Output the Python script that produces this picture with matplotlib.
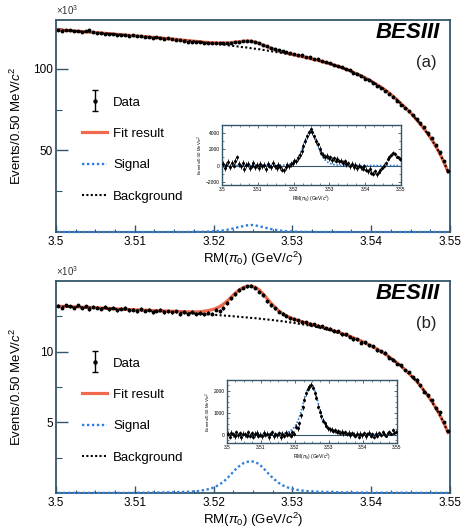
import numpy as np
import matplotlib
matplotlib.use("Agg")
import matplotlib.pyplot as plt
from matplotlib.lines import Line2D
from matplotlib.container import ErrorbarContainer
from matplotlib.legend_handler import HandlerErrorbar
from matplotlib.ticker import MultipleLocator, FixedLocator, FuncFormatter

plt.rcParams['font.family'] = ['Liberation Sans', 'DejaVu Sans']
plt.rcParams['mathtext.fontset'] = 'custom'
plt.rcParams['mathtext.rm'] = 'Liberation Sans'
plt.rcParams['mathtext.it'] = 'Liberation Sans:italic'
plt.rcParams['mathtext.bf'] = 'Liberation Sans:bold'

# bins of 0.50 MeV between 3.50 and 3.55 GeV
bin_width = 0.0005
n_bins = 100

# (a) background fit, x10^3 events per bin
bg_a = [123.9, 123.8, 123.6, 123.5, 123.3, 123.1, 122.9, 122.8, 122.6, 122.4,
        122.2, 122.0, 121.8, 121.6, 121.4, 121.2, 121.0, 120.8, 120.6, 120.4,
        120.2, 120.0, 119.8, 119.6, 119.4, 119.2, 119.0, 118.7, 118.5, 118.3,
        118.1, 117.8, 117.6, 117.3, 117.1, 116.8, 116.6, 116.2, 116.0, 115.7,
        115.5, 115.1, 114.9, 114.5, 114.3, 113.9, 113.7, 113.3, 113.1, 112.7,
        112.4, 112.1, 111.7, 111.3, 110.9, 110.5, 110.1, 109.7, 109.3, 108.8,
        108.4, 107.9, 107.4, 106.9, 106.3, 105.8, 105.2, 104.5, 103.9, 103.2,
        102.4, 101.6, 100.8, 99.9, 99.0, 97.9, 96.8, 95.7, 94.5, 93.2,
        91.8, 90.3, 88.8, 87.2, 85.4, 83.3, 81.2, 78.9, 76.6, 74.2,
        71.7, 68.9, 66.1, 63.0, 59.7, 56.1, 52.1, 47.7, 42.6, 36.9]

# (a) signal, x10^3
sig_a = [0, 0, 0, 0, 0, 0, 0, 0, 0, 0,
         0, 0, 0, 0, 0, 0, 0, 0, 0, 0,
         0, 0, 0, 0, 0, 0, 0, 0, 0, 0,
         0, 0, 0, 0.03, 0.05, 0.08, 0.12, 0.17, 0.25, 0.35,
         0.5, 0.7, 1.0, 1.4, 1.9, 2.5, 3.1, 3.6, 4.1, 4.3,
         4.1, 3.6, 3.0, 2.4, 1.85, 1.4, 1.0, 0.7, 0.5, 0.35,
         0.25, 0.17, 0.12, 0.08, 0.05, 0.03, 0, 0, 0, 0,
         0, 0, 0, 0, 0, 0, 0, 0, 0, 0,
         0, 0, 0, 0, 0, 0, 0, 0, 0, 0,
         0, 0, 0, 0, 0, 0, 0, 0, 0, 0]

# (a) data minus background, events
res_a = [200, -300, 100, 400, -200, 300, 0, 600, 1000, 200,
         -100, 300, -400, 100, 200, -300, 0, 300, -200, 100,
         -300, 200, -100, 100, -400, 200, 0, -200, 300, -100,
         -300, 100, -200, -500, -600, -200, 100, -100, 200, 300,
         600, 500, 900, 1300, 1800, 2400, 3000, 3600, 4100, 4450,
         4100, 3600, 3000, 2600, 2100, 1600, 1300, 1100, 1200, 900,
         1000, 700, 900, 600, 800, 500, 600, 300, 500, 200,
         300, -100, 200, -200, 100, -300, 0, -200, -400, -100,
         -500, -700, -400, -900, -1000, -700, -1100, -800, -600, -300,
         0, 300, 800, 1100, 1300, 1500, 1400, 1100, 1000, 800]

# (b) background fit, x10^3
bg_b = [13.21, 13.19, 13.19, 13.18, 13.16, 13.16, 13.14, 13.13, 13.12, 13.11,
        13.09, 13.08, 13.06, 13.05, 13.03, 13.02, 13.00, 12.99, 12.97, 12.96,
        12.94, 12.93, 12.91, 12.90, 12.88, 12.87, 12.85, 12.84, 12.82, 12.81,
        12.79, 12.77, 12.75, 12.73, 12.71, 12.69, 12.67, 12.66, 12.64, 12.62,
        12.60, 12.58, 12.56, 12.54, 12.52, 12.49, 12.47, 12.44, 12.42, 12.39,
        12.37, 12.34, 12.31, 12.28, 12.25, 12.22, 12.18, 12.15, 12.11, 12.07,
        12.03, 11.98, 11.94, 11.89, 11.83, 11.78, 11.72, 11.65, 11.58, 11.51,
        11.43, 11.34, 11.25, 11.16, 11.06, 10.95, 10.84, 10.72, 10.59, 10.46,
        10.31, 10.17, 9.99, 9.82, 9.63, 9.42, 9.21, 8.98, 8.73, 8.46,
        8.18, 7.91, 7.56, 7.21, 6.83, 6.42, 5.96, 5.47, 4.90, 4.27]

# (b) signal, x10^3
sig_b = [0.01, 0.01, 0.01, 0.01, 0.01, 0.01, 0.01, 0.01, 0.01, 0.01,
         0.01, 0.01, 0.01, 0.01, 0.01, 0.01, 0.01, 0.01, 0.01, 0.01,
         0.02, 0.02, 0.02, 0.03, 0.03, 0.03, 0.04, 0.04, 0.05, 0.05,
         0.06, 0.07, 0.08, 0.09, 0.10, 0.12, 0.15, 0.20, 0.26, 0.34,
         0.45, 0.60, 0.80, 1.05, 1.35, 1.65, 1.90, 2.10, 2.20, 2.25,
         2.20, 2.05, 1.80, 1.50, 1.20, 0.95, 0.72, 0.55, 0.42, 0.33,
         0.26, 0.21, 0.17, 0.14, 0.12, 0.10, 0.09, 0.08, 0.07, 0.06,
         0.05, 0.05, 0.04, 0.04, 0.04, 0.03, 0.03, 0.03, 0.03, 0.02,
         0.02, 0.02, 0.02, 0.02, 0.02, 0.02, 0.02, 0.02, 0.02, 0.02,
         0.01, 0.01, 0.01, 0.01, 0.01, 0.01, 0.01, 0.01, 0.01, 0.01]

# (b) data minus background, events
res_b = [50, -80, 100, 30, -60, 120, -20, 80, -100, 60,
         20, -50, 110, -30, 70, -90, 40, 100, -40, 10,
         -70, 90, 0, 60, -100, 40, 120, -60, 30, -20,
         80, -110, 50, -40, 100, 0, 60, -30, 120, 60,
         380, 300, 530, 900, 1250, 1600, 1900, 2100, 2200, 2280,
         2150, 1900, 1700, 1290, 1050, 840, 650, 530, 420, 300,
         250, 230, 180, 200, 130, 160, 100, 150, 70, 120,
         40, 100, -20, 80, 10, -60, 50, -80, 60, -20,
         80, -70, 30, 100, -50, 20, -80, 60, -40, 90,
         0, 120, 50, -30, 80, 140, 60, 230, 100, 150]

x_ticks = [3.50, 3.51, 3.52, 3.53, 3.54, 3.55]
legend_labels = ['Data', 'Fit result', 'Signal', 'Background']

FRAME = '#34566a'
RED = '#ef6a4c'
BLUE = '#2f7fe0'
XLABEL = r'RM($\pi_0$) (GeV/$c^2$)'
YLABEL = r'Events/0.50 MeV/$c^2$'

x = 3.5 + bin_width * (np.arange(n_bins) + 0.5)
fmt_x = FuncFormatter(lambda v, p: f"{round(v, 3):g}")


def style_frame(ax, lw):
    for s in ax.spines.values():
        s.set_color(FRAME)
        s.set_linewidth(lw)


def draw_panel(ax, ins, bg, sig, res, ytop, ymajor, yminor, letter,
               in_ylim, in_yticks, in_yminor):
    bg = np.array(bg)
    sig = np.array(sig)
    res = np.array(res)
    data = bg + res / 1000.0
    err = np.sqrt(data * 1000.0) / 1000.0

    fit_line, = ax.plot(x, bg + sig, color=RED, lw=2.3, zorder=2)
    sig_line, = ax.plot(x, sig, color=BLUE, lw=1.7, ls=(0, (1, 1.1)),
                        zorder=3, clip_on=False)
    bg_line, = ax.plot(x, bg, color='black', lw=1.5, ls=(0, (1, 1.1)), zorder=3)
    ax.errorbar(x, data, yerr=err, fmt='o', ms=1.8, color='black',
                elinewidth=0.8, capsize=0, zorder=4)

    ax.set_xlim(3.5, 3.55)
    ax.set_ylim(0, ytop)
    ax.xaxis.set_major_locator(FixedLocator(x_ticks))
    ax.xaxis.set_minor_locator(MultipleLocator(0.0025))
    ax.xaxis.set_major_formatter(fmt_x)
    ax.yaxis.set_major_locator(FixedLocator(ymajor))
    ax.yaxis.set_minor_locator(FixedLocator(yminor))
    ax.tick_params(axis='x', which='major', direction='in', length=5, width=1,
                   color=FRAME, labelsize=8.5, pad=3)
    ax.tick_params(axis='x', which='minor', direction='in', length=2.5, width=0.8,
                   color=FRAME)
    ax.tick_params(axis='y', which='major', direction='in', length=8.5, width=1,
                   color=FRAME, labelsize=8.5, pad=2)
    ax.tick_params(axis='y', which='minor', direction='in', length=4.5, width=0.8,
                   color=FRAME)
    style_frame(ax, 1.3)
    ax.set_xlabel(XLABEL, fontsize=9.5)
    ax.xaxis.set_label_coords(0.5, -0.085)
    ax.set_ylabel(YLABEL, fontsize=9.5)
    ax.yaxis.set_label_coords(-0.082, 0.5)

    ax.text(0.0, 1.012, r'$\times$10$^3$', transform=ax.transAxes,
            fontsize=7, ha='left', va='bottom', color='#333333')
    ax.text(0.975, 0.94, 'BESIII', transform=ax.transAxes, fontsize=16,
            fontweight='bold', fontstyle='italic', ha='right', va='center')
    ax.text(0.965, 0.80, f'({letter})', transform=ax.transAxes, fontsize=12,
            ha='right', va='center', color='#222222')

    leg_data = ax.errorbar([np.nan], [np.nan], yerr=[1], fmt='o', ms=2.2,
                           color='black', elinewidth=1, capsize=2)
    ax.legend([leg_data, fit_line, sig_line, bg_line], legend_labels,
              loc='upper left', bbox_to_anchor=(0.066, 0.64), frameon=False,
              fontsize=9.5, labelspacing=1.45, handlelength=1.9,
              handletextpad=0.45, borderaxespad=0, borderpad=0,
              handler_map={ErrorbarContainer: HandlerErrorbar(xerr_size=0.5, yerr_size=0.8)})

    # inset: background-subtracted spectrum
    ins.axhline(0, color=FRAME, lw=0.8, zorder=1)
    ins.plot(x, sig * 1000.0, color=BLUE, lw=1.2, ls=(0, (1, 1)), zorder=2)
    ins.errorbar(x, res, yerr=err * 1000.0, fmt='o', ms=1.2, color='black',
                 elinewidth=0.6, capsize=0, zorder=3)
    ins.set_xlim(3.5, 3.55)
    ins.set_ylim(*in_ylim)
    ins.xaxis.set_major_locator(FixedLocator(x_ticks))
    ins.xaxis.set_minor_locator(MultipleLocator(0.0025))
    ins.xaxis.set_major_formatter(fmt_x)
    ins.yaxis.set_major_locator(FixedLocator(in_yticks))
    ins.yaxis.set_minor_locator(MultipleLocator(in_yminor))
    ins.tick_params(which='both', direction='in', top=True, right=True,
                    color=FRAME, labelsize=3.5, pad=1.5)
    ins.tick_params(which='major', length=2.5, width=0.6)
    ins.tick_params(which='minor', length=1.3, width=0.5)
    style_frame(ins, 1.0)
    ins.set_xlabel(XLABEL, fontsize=3.5, labelpad=1)
    ins.set_ylabel(YLABEL, fontsize=3.2, labelpad=1)


fig = plt.figure(figsize=(4.61, 5.29), dpi=100)
W, H = 461.0, 529.0
ax_a = fig.add_axes([56 / W, 1 - 232 / H, 394 / W, 212 / H])
ax_b = fig.add_axes([56 / W, 1 - 493 / H, 394 / W, 212 / H])
in_a = fig.add_axes([222 / W, 1 - 185 / H, 179 / W, 60 / H])
in_b = fig.add_axes([227 / W, 1 - 443 / H, 170 / W, 63 / H])

draw_panel(ax_a, in_a, bg_a, sig_a, res_a, 130, [50, 100], [25, 75, 125], 'a',
           (-2400, 5000), [-2000, 0, 2000, 4000], 1000)
draw_panel(ax_b, in_b, bg_b, sig_b, res_b, 15, [5, 10], [2.5, 7.5, 12.5], 'b',
           (-370, 2500), [0, 1000, 2000], 250)

fig.savefig('out.png', dpi=100, facecolor='white')
